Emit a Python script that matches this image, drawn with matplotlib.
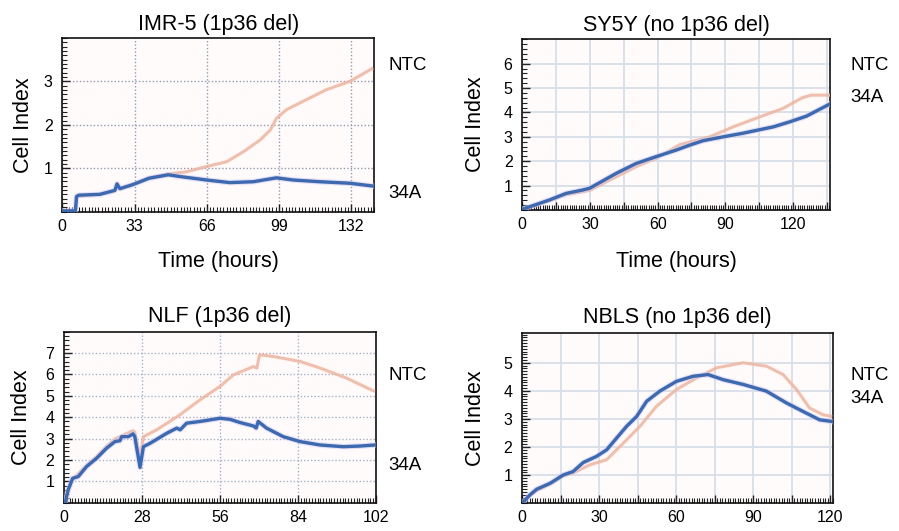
import matplotlib
matplotlib.use("Agg")
import matplotlib.pyplot as plt
from matplotlib.ticker import MultipleLocator, FixedLocator, FixedFormatter
import matplotlib.patheffects as pe

plt.rcParams['font.family'] = ['Liberation Sans', 'DejaVu Sans']

# ---------------- data ----------------
titles = ["IMR-5 (1p36 del)", "SY5Y (no 1p36 del)", "NLF (1p36 del)", "NBLS (no 1p36 del)"]

# IMR-5
imr_t_34a = [0, 6, 6.5, 7.5, 17.2, 24, 25, 26.3, 32, 39.6, 48.4, 53.7, 65.9, 76.5, 87.2, 97.8, 105.4, 117.6, 131.3, 142]
imr_v_34a = [0.02, 0.02, 0.35, 0.38, 0.40, 0.49, 0.64, 0.53, 0.62, 0.77, 0.85, 0.81, 0.73, 0.67, 0.69, 0.78, 0.73, 0.69, 0.655, 0.59]
imr_t_ntc = [0, 6, 6.5, 17, 24, 25, 26.3, 32, 39.6, 48.4, 56.8, 65.9, 75, 82.7, 90.3, 95, 97.8, 102.4, 111.5, 120.6, 131.3, 142]
imr_v_ntc = [0.02, 0.02, 0.35, 0.40, 0.49, 0.62, 0.54, 0.63, 0.78, 0.87, 0.92, 1.04, 1.15, 1.38, 1.65, 1.88, 2.15, 2.35, 2.58, 2.81, 3.0, 3.31]

# SY5Y
sy_t_34a = [0, 12, 19.4, 26.8, 29.8, 41.6, 50.5, 59.4, 68.3, 74.2, 80.1, 89, 97.9, 111.3, 118.7, 126, 136.4]
sy_v_34a = [0.03, 0.41, 0.68, 0.82, 0.89, 1.50, 1.91, 2.19, 2.46, 2.66, 2.84, 3.0, 3.15, 3.41, 3.62, 3.85, 4.35]
sy_t_ntc = [0, 12, 19.4, 29.8, 41.6, 50.5, 59.4, 69.8, 83.1, 93.5, 105.3, 115.7, 124, 128, 136.4]
sy_v_ntc = [0.03, 0.38, 0.62, 0.80, 1.36, 1.78, 2.12, 2.68, 3.0, 3.41, 3.82, 4.17, 4.6, 4.71, 4.71]

# NLF
nlf_t_34a = [0, 0.4, 1.5, 3.1, 5.1, 8.1, 11.7, 15.3, 18.3, 20.1, 20.7, 23.1, 24.8, 25.4, 27.3, 28.5, 30.9, 36.9,
             40.5, 41.7, 44, 48.8, 56, 59.6, 63.2, 68, 69, 69.7, 72.7, 78.7, 84.7, 91.9, 100.2, 106.3, 111.6]
nlf_v_34a = [0, 0.0, 0.6, 1.14, 1.22, 1.69, 2.08, 2.55, 2.86, 2.9, 3.09, 3.09, 3.22, 3.1, 1.65, 2.62, 2.78, 3.25,
             3.49, 3.41, 3.72, 3.8, 3.95, 3.9, 3.75, 3.59, 3.49, 3.8, 3.49, 3.09, 2.86, 2.7, 2.62, 2.65, 2.7]
nlf_t_ntc = [0, 1.5, 3.1, 8.1, 11.7, 15.3, 18.3, 21, 24.8, 25.4, 27.3, 28.5, 33.3, 41.6, 48.8, 56, 60.8, 68,
             69.2, 70.2, 75.1, 84.7, 91.9, 101.4, 111.6]
nlf_v_ntc = [0, 0.6, 1.1, 1.75, 2.15, 2.65, 2.98, 3.15, 3.37, 3.3, 2.08, 3.09, 3.41, 4.11, 4.81, 5.44, 5.98, 6.37,
             6.30, 6.92, 6.84, 6.61, 6.3, 5.83, 5.2]

# NBLS
nb_t_34a = [0, 3.1, 5.7, 10.9, 16.1, 19.9, 23.8, 29, 32.9, 36.8, 40.7, 44.6, 48.5, 53.6, 60.1, 66.6, 72.4,
            78.2, 86, 95.1, 102.9, 109.3, 115.8, 120.7]
nb_v_34a = [0, 0.3, 0.5, 0.71, 1.01, 1.13, 1.45, 1.67, 1.90, 2.32, 2.74, 3.09, 3.63, 3.99, 4.34, 4.52, 4.58,
            4.40, 4.23, 3.99, 3.57, 3.27, 2.97, 2.91]
nb_t_ntc = [0, 3.1, 5.7, 10.9, 16.1, 19.9, 26.4, 32.9, 39.4, 45.9, 52.3, 60.1, 67.9, 75.7, 86, 95.1, 101.6,
            106.8, 111.9, 117.1, 120.7]
nb_v_ntc = [0, 0.28, 0.45, 0.68, 0.97, 1.08, 1.37, 1.55, 2.14, 2.74, 3.45, 4.05, 4.46, 4.82, 5.0, 4.88, 4.58,
            4.05, 3.39, 3.15, 3.09]

# tick labels
imr_xticks = [0, 33, 66, 99, 132]
sy_xticks = [0, 30, 60, 90, 120]
nlf_xticks = [0, 28, 56, 84, 112]
nlf_xlabels = ["0", "28", "56", "84", "102"]
nb_xticks = [0, 30, 60, 90, 120]

# ---------------- figure ----------------
W, H = 899, 531
fig = plt.figure(figsize=(W / 100, H / 100), dpi=100)

def px_rect(l, r, t, b):
    return [l / W, 1 - b / H, (r - l) / W, (b - t) / H]

BLUE = '#2f6cc2'
PINK = '#f4b29a'
halo = [pe.Stroke(linewidth=4.0, foreground='#f2c4c4', alpha=0.6), pe.Normal()]

def style(ax, xlim, ylim, xmaj, xlabels, ymaj, xmin, ymin, grid_style, xgrid=None):
    ax.set_xlim(*xlim)
    ax.set_ylim(*ylim)
    ax.set_facecolor('#fffbfb')
    if xgrid is None:
        ax.xaxis.set_major_locator(FixedLocator(xmaj))
        ax.xaxis.set_major_formatter(FixedFormatter(xlabels))
    else:
        ax.xaxis.set_major_locator(FixedLocator(xgrid))
        labs = [lab for lab in xlabels]
        labmap = {v: l for v, l in zip(xmaj, labs)}
        ax.xaxis.set_major_formatter(FixedFormatter([labmap.get(g, "") for g in xgrid]))
    ax.yaxis.set_major_locator(FixedLocator(ymaj))
    ax.yaxis.set_major_formatter(FixedFormatter([str(v) for v in ymaj]))
    ax.xaxis.set_minor_locator(MultipleLocator(xmin))
    ax.yaxis.set_minor_locator(MultipleLocator(ymin))
    ax.tick_params(which='both', direction='in', top=False, right=False, colors='#222222',
                   labelcolor='black', labelsize=11.5)
    ax.tick_params(which='major', length=6, width=1.0)
    ax.tick_params(which='minor', length=3.5, width=0.8)
    ax.tick_params(axis='y', which='major', pad=7)
    ax.tick_params(axis='x', which='major', pad=5)
    for s in ax.spines.values():
        s.set_linewidth(1.2)
        s.set_color('#111111')
    ax.grid(True, which='major', **grid_style)
    ax.set_axisbelow(True)

dotted = dict(color='#8d9db3', linestyle=(0, (1, 1.5)), linewidth=1.0)
dotted_light = dict(color='#9fb4cc', linestyle=(0, (1, 1.5)), linewidth=1.0)
solid_light = dict(color='#d6e0ea', linestyle='-', linewidth=1.3)

axes_spec = [
    dict(rect=px_rect(62.3, 374.3, 38, 211.7), xlim=(0, 142.5), ylim=(0, 4.0),
         t34=imr_t_34a, v34=imr_v_34a, tn=imr_t_ntc, vn=imr_v_ntc,
         xmaj=imr_xticks, xlabels=[str(v) for v in imr_xticks], ymaj=[1, 2, 3],
         xmin=1.5, ymin=0.1, grid=dotted, xgrid=None,
         ylab_x=-0.125, title_y=1.046, xlab=True, xlab_y=-0.317,
         ntc=(388, 70), a34=(388, 198.3)),
    dict(rect=px_rect(522.3, 830, 39.3, 210), xlim=(0, 136.4), ylim=(0, 7.0),
         t34=sy_t_34a, v34=sy_v_34a, tn=sy_t_ntc, vn=sy_v_ntc,
         xmaj=sy_xticks, xlabels=[str(v) for v in sy_xticks], ymaj=[1, 2, 3, 4, 5, 6],
         xmin=1, ymin=0.2, grid=solid_light, xgrid=[0, 15, 30, 45, 60, 75, 90, 105, 120, 135],
         ylab_x=-0.151, title_y=1.049, xlab=True, xlab_y=-0.332,
         ntc=(850, 70), a34=(850, 101.7)),
    dict(rect=px_rect(64, 376, 331.7, 502.7), xlim=(0, 112), ylim=(0, 8.0),
         t34=nlf_t_34a, v34=nlf_v_34a, tn=nlf_t_ntc, vn=nlf_v_ntc,
         xmaj=nlf_xticks, xlabels=nlf_xlabels, ymaj=[1, 2, 3, 4, 5, 6, 7],
         xmin=1, ymin=0.2, grid=dotted_light, xgrid=None,
         ylab_x=-0.136, title_y=1.057, xlab=False, xlab_y=None,
         ntc=(388, 380), a34=(388, 470)),
    dict(rect=px_rect(522, 833, 332.7, 503.3), xlim=(0, 121), ylim=(0, 6.07),
         t34=nb_t_34a, v34=nb_v_34a, tn=nb_t_ntc, vn=nb_v_ntc,
         xmaj=nb_xticks, xlabels=[str(v) for v in nb_xticks], ymaj=[1, 2, 3, 4, 5],
         xmin=1, ymin=0.1, grid=solid_light, xgrid=[0, 15, 30, 45, 60, 75, 90, 105, 120],
         ylab_x=-0.1486, title_y=1.055, xlab=False, xlab_y=None,
         ntc=(850, 380), a34=(850, 403.3)),
]

for spec, title in zip(axes_spec, titles):
    ax = fig.add_axes(spec['rect'])
    style(ax, spec['xlim'], spec['ylim'], spec['xmaj'], spec['xlabels'], spec['ymaj'],
          spec['xmin'], spec['ymin'], spec['grid'], spec['xgrid'])
    ax.plot(spec['tn'], spec['vn'], color=PINK, linewidth=2.2, alpha=0.85, solid_capstyle='butt', zorder=3)
    ax.plot(spec['t34'], spec['v34'], color=BLUE, linewidth=2.4, zorder=4, path_effects=halo)
    ax.set_title(title, fontsize=15.5, y=spec['title_y'], pad=0, va='baseline')
    ax.set_ylabel('Cell Index', fontsize=15.5, va='center')
    ax.yaxis.set_label_coords(spec['ylab_x'], 0.5)
    if spec['xlab']:
        ax.set_xlabel('Time (hours)', fontsize=15.5, va='baseline')
        ax.xaxis.set_label_coords(0.5, spec['xlab_y'])
    fig.text(spec['ntc'][0] / W, 1 - spec['ntc'][1] / H, 'NTC', fontsize=13.5, va='baseline', ha='left')
    fig.text(spec['a34'][0] / W, 1 - spec['a34'][1] / H, '34A', fontsize=13.5, va='baseline', ha='left')

fig.savefig('out.png', dpi=100, facecolor='white')
